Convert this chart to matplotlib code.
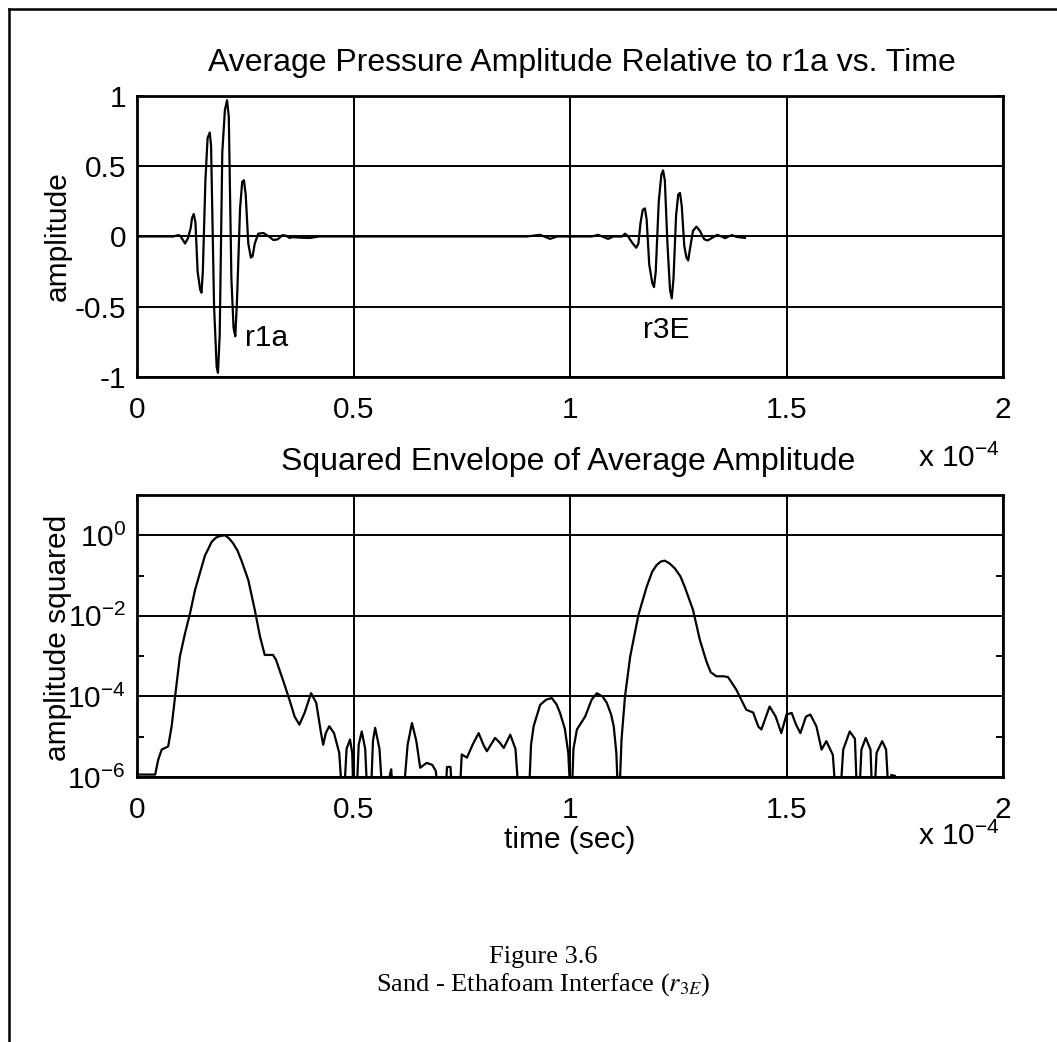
import matplotlib
matplotlib.use('Agg')
import matplotlib.pyplot as plt
import matplotlib.ticker as mticker
import numpy as np

plt.rcParams['font.family'] = 'Liberation Sans'
plt.rcParams['mathtext.fontset'] = 'custom'
plt.rcParams['mathtext.rm'] = 'Liberation Sans'
plt.rcParams['mathtext.it'] = 'Liberation Sans:italic'
plt.rcParams['axes.unicode_minus'] = False

# time in units of 1e-4 s
t_amp = [0.000, 0.084, 0.095, 0.100, 0.111, 0.118, 0.124, 0.127, 0.131, 0.135,
         0.140, 0.146, 0.149, 0.152, 0.158, 0.163, 0.168, 0.171, 0.178, 0.184,
         0.187, 0.191, 0.197, 0.203, 0.208, 0.212, 0.218, 0.223, 0.227, 0.231,
         0.238, 0.243, 0.247, 0.251, 0.257, 0.263, 0.267, 0.272, 0.280, 0.292,
         0.305, 0.315, 0.325, 0.336, 0.345, 0.352, 0.359, 0.390, 0.400, 0.420,
         0.900, 0.931, 0.954, 0.970, 1.050, 1.065, 1.088, 1.100, 1.120, 1.127,
         1.133, 1.145, 1.153, 1.158, 1.163, 1.168, 1.173, 1.177, 1.183, 1.190,
         1.194, 1.198, 1.205, 1.211, 1.215, 1.219, 1.225, 1.231, 1.235, 1.239,
         1.245, 1.250, 1.254, 1.258, 1.264, 1.269, 1.273, 1.277, 1.284, 1.292,
         1.300, 1.310, 1.318, 1.328, 1.340, 1.350, 1.358, 1.366, 1.374, 1.385,
         1.404]
amp = [0.0, 0.0, 0.01, 0.005, -0.05, -0.01, 0.06, 0.13, 0.16, 0.10,
       -0.25, -0.38, -0.40, -0.25, 0.40, 0.70, 0.74, 0.65, -0.50, -0.93,
       -0.97, -0.70, 0.60, 0.90, 0.97, 0.85, -0.30, -0.65, -0.71, -0.45,
       0.20, 0.39, 0.40, 0.30, -0.05, -0.15, -0.14, -0.05, 0.02, 0.025,
       0.0, -0.025, -0.02, 0.01, 0.005, -0.01, -0.005, -0.01, -0.01, 0.0,
       0.0, 0.012, -0.017, 0.0, 0.0, 0.012, -0.017, 0.0, 0.0, 0.02,
       0.005, -0.05, -0.08, -0.05, 0.10, 0.19, 0.20, 0.12, -0.20, -0.33,
       -0.36, -0.25, 0.25, 0.44, 0.47, 0.40, -0.05, -0.38, -0.44, -0.30,
       0.15, 0.30, 0.31, 0.22, -0.07, -0.15, -0.17, -0.09, 0.04, 0.07,
       0.04, -0.02, -0.028, -0.01, 0.012, 0.0, -0.012, 0.0, 0.01, -0.003,
       -0.01]

# squared envelope as log10 of value (values below -6 fall off the axis)
t_env = [0.000, 0.042, 0.049, 0.057, 0.072, 0.080, 0.088, 0.099, 0.111, 0.122,
         0.134, 0.145, 0.157, 0.165, 0.172, 0.182, 0.191, 0.203, 0.212, 0.222,
         0.232, 0.241, 0.257, 0.272, 0.284, 0.295, 0.314, 0.321, 0.337, 0.352,
         0.364, 0.375, 0.387, 0.402, 0.414, 0.425, 0.430, 0.436, 0.444, 0.455,
         0.467, 0.474, 0.478, 0.484, 0.492, 0.497, 0.500, 0.507, 0.512, 0.519,
         0.527, 0.532, 0.540, 0.545, 0.550, 0.560, 0.567, 0.580, 0.584, 0.587,
         0.592, 0.615, 0.625, 0.635, 0.645, 0.654, 0.669, 0.682, 0.690, 0.697,
         0.712, 0.716, 0.724, 0.728, 0.745, 0.750, 0.762, 0.775, 0.789, 0.800,
         0.808, 0.827, 0.838, 0.847, 0.862, 0.874, 0.882, 0.905, 0.910, 0.916,
         0.931, 0.945, 0.958, 0.969, 0.977, 0.988, 0.996, 1.001, 1.004, 1.008,
         1.016, 1.035, 1.050, 1.062, 1.075, 1.085, 1.095, 1.101, 1.107, 1.111,
         1.114, 1.119, 1.127, 1.139, 1.158, 1.177, 1.190, 1.200, 1.210, 1.219,
         1.230, 1.242, 1.255, 1.265, 1.284, 1.300, 1.315, 1.325, 1.338, 1.355,
         1.365, 1.384, 1.407, 1.423, 1.435, 1.442, 1.461, 1.475, 1.488, 1.500,
         1.512, 1.522, 1.532, 1.545, 1.555, 1.569, 1.581, 1.592, 1.607, 1.614,
         1.624, 1.631, 1.646, 1.658, 1.663, 1.668, 1.673, 1.683, 1.694, 1.698,
         1.703, 1.708, 1.721, 1.730, 1.736, 1.742, 1.750]
env_log = [-5.94, -5.94, -5.57, -5.32, -5.24, -4.74, -4.00, -3.01, -2.43, -1.96,
           -1.36, -0.95, -0.50, -0.33, -0.17, -0.06, -0.02, 0.00, -0.07, -0.20,
           -0.38, -0.62, -1.11, -1.85, -2.51, -2.97, -2.97, -3.09, -3.59, -4.08,
           -4.50, -4.70, -4.41, -3.92, -4.16, -4.91, -5.20, -4.91, -4.74, -4.91,
           -5.40, -6.5, -6.5, -5.30, -5.07, -5.40, -6.5, -6.5, -5.20, -4.87,
           -5.30, -6.5, -6.5, -5.10, -4.78, -5.30, -6.5, -6.5, -5.95, -5.81,
           -6.5, -6.5, -5.20, -4.66, -5.10, -5.77, -5.65, -5.70, -5.85, -6.5,
           -6.5, -5.75, -5.75, -6.5, -6.5, -5.44, -5.52, -5.20, -4.91, -5.20,
           -5.36, -5.03, -5.15, -5.28, -4.95, -5.30, -6.5, -6.5, -5.20, -4.74,
           -4.21, -4.08, -4.04, -4.20, -4.41, -4.80, -5.40, -6.5, -6.5, -5.30,
           -4.82, -4.50, -4.08, -3.92, -4.00, -4.16, -4.45, -4.74, -5.40, -6.5,
           -6.5, -5.07, -4.00, -3.01, -1.98, -1.28, -0.90, -0.74, -0.65, -0.63,
           -0.70, -0.82, -1.02, -1.28, -1.85, -2.60, -3.13, -3.40, -3.50, -3.50,
           -3.52, -3.83, -4.33, -4.40, -4.75, -4.82, -4.25, -4.50, -4.91, -4.45,
           -4.41, -4.70, -4.91, -4.50, -4.45, -4.74, -5.32, -5.11, -5.45, -6.5,
           -6.5, -5.32, -4.87, -5.05, -6.5, -6.5, -5.32, -5.03, -5.32, -6.5,
           -6.5, -5.40, -5.11, -5.32, -6.5, -5.95, -5.97]

x_ticks = [0, 0.5, 1, 1.5, 2]
x_labels = ['0', '0.5', '1', '1.5', '2']
amp_ticks = [-1, -0.5, 0, 0.5, 1]
amp_labels = ['-1', '-0.5', '0', '0.5', '1']
env_ticks = [1e-6, 1e-4, 1e-2, 1e0]
env_labels = [r'$10^{-6}$', r'$10^{-4}$', r'$10^{-2}$', r'$10^{0}$']
env_minor = [1e-5, 1e-3, 1e-1]

fs = 21.5
fs_title = 23
W, H = 1057, 1042
fig = plt.figure(figsize=(W / 100, H / 100), dpi=100)


def style(ax):
    for s in ax.spines.values():
        s.set_linewidth(2.0)
    ax.grid(True, color='black', linewidth=1.4)
    ax.set_axisbelow(True)
    ax.tick_params(which='both', direction='in', top=True, right=True,
                   labelsize=fs, width=1.4)
    ax.tick_params(which='major', length=5)
    ax.tick_params(axis='x', pad=14)
    ax.tick_params(axis='y', pad=8)


ax1 = fig.add_axes([137 / W, 1 - 377 / H, 866 / W, 281 / H])
ax1.plot(t_amp, amp, color='black', linewidth=1.6)
ax1.set_xlim(0, 2)
ax1.set_ylim(-1, 1)
ax1.set_xticks(x_ticks)
ax1.set_xticklabels(x_labels)
ax1.set_yticks(amp_ticks)
ax1.set_yticklabels(amp_labels)
style(ax1)
ax1.text(0.25, -0.72, 'r1a', fontsize=fs, va='center')
ax1.text(1.168, -0.665, 'r3E', fontsize=fs, va='center')

ax2 = fig.add_axes([137 / W, 1 - 777 / H, 866 / W, 282 / H])
ax2.plot(t_env, 10.0 ** np.array(env_log), color='black', linewidth=1.6)
ax2.set_yscale('log')
ax2.set_xlim(0, 2)
ax2.set_ylim(1e-6, 1e1)
ax2.set_xticks(x_ticks)
ax2.set_xticklabels(x_labels)
ax2.yaxis.set_major_locator(mticker.FixedLocator(env_ticks))
ax2.yaxis.set_major_formatter(mticker.FixedFormatter(env_labels))
ax2.yaxis.set_minor_locator(mticker.FixedLocator(env_minor))
ax2.yaxis.set_minor_formatter(mticker.NullFormatter())
style(ax2)
ax2.tick_params(which='minor', length=5)

fig.text(58 / W, 1 - 236 / H, 'amplitude', fontsize=fs, rotation=90,
         ha='center', va='center')
fig.text(58 / W, 1 - 638 / H, 'amplitude squared', fontsize=fs, rotation=90,
         ha='center', va='center')
fig.text(570 / W, 1 - 840 / H, 'time (sec)', fontsize=fs,
         ha='center', va='center')

fig.text(582 / W, 1 - 71 / H, 'Average Pressure Amplitude Relative to r1a vs. Time',
         fontsize=fs_title, ha='center', va='baseline')
fig.text(568 / W, 1 - 470 / H, 'Squared Envelope of Average Amplitude',
         fontsize=fs_title, ha='center', va='baseline')
fig.text(1000 / W, 1 - 467 / H, r'x 10$^{\mathrm{-4}}$', fontsize=fs,
         ha='right', va='baseline')
fig.text(1000 / W, 1 - 845 / H, r'x 10$^{\mathrm{-4}}$', fontsize=fs,
         ha='right', va='baseline')

fig.text(543 / W, 1 - 957 / H, 'Figure 3.6', fontsize=19,
         family='Liberation Serif', ha='center', va='center')
fig.text(543 / W, 1 - 985 / H, r'Sand - Ethafoam Interface ($r_{3E}$)',
         fontsize=19, family='Liberation Serif', math_fontfamily='stix',
         ha='center', va='center')

# page frame (left and top edges only)
fig.add_artist(plt.Line2D([9 / W, 9 / W], [0, 1 - 9 / H], color='black',
                          linewidth=1.8, transform=fig.transFigure))
fig.add_artist(plt.Line2D([9 / W, 1], [1 - 9 / H, 1 - 9 / H], color='black',
                          linewidth=1.8, transform=fig.transFigure))

fig.savefig('out.png', dpi=100)
